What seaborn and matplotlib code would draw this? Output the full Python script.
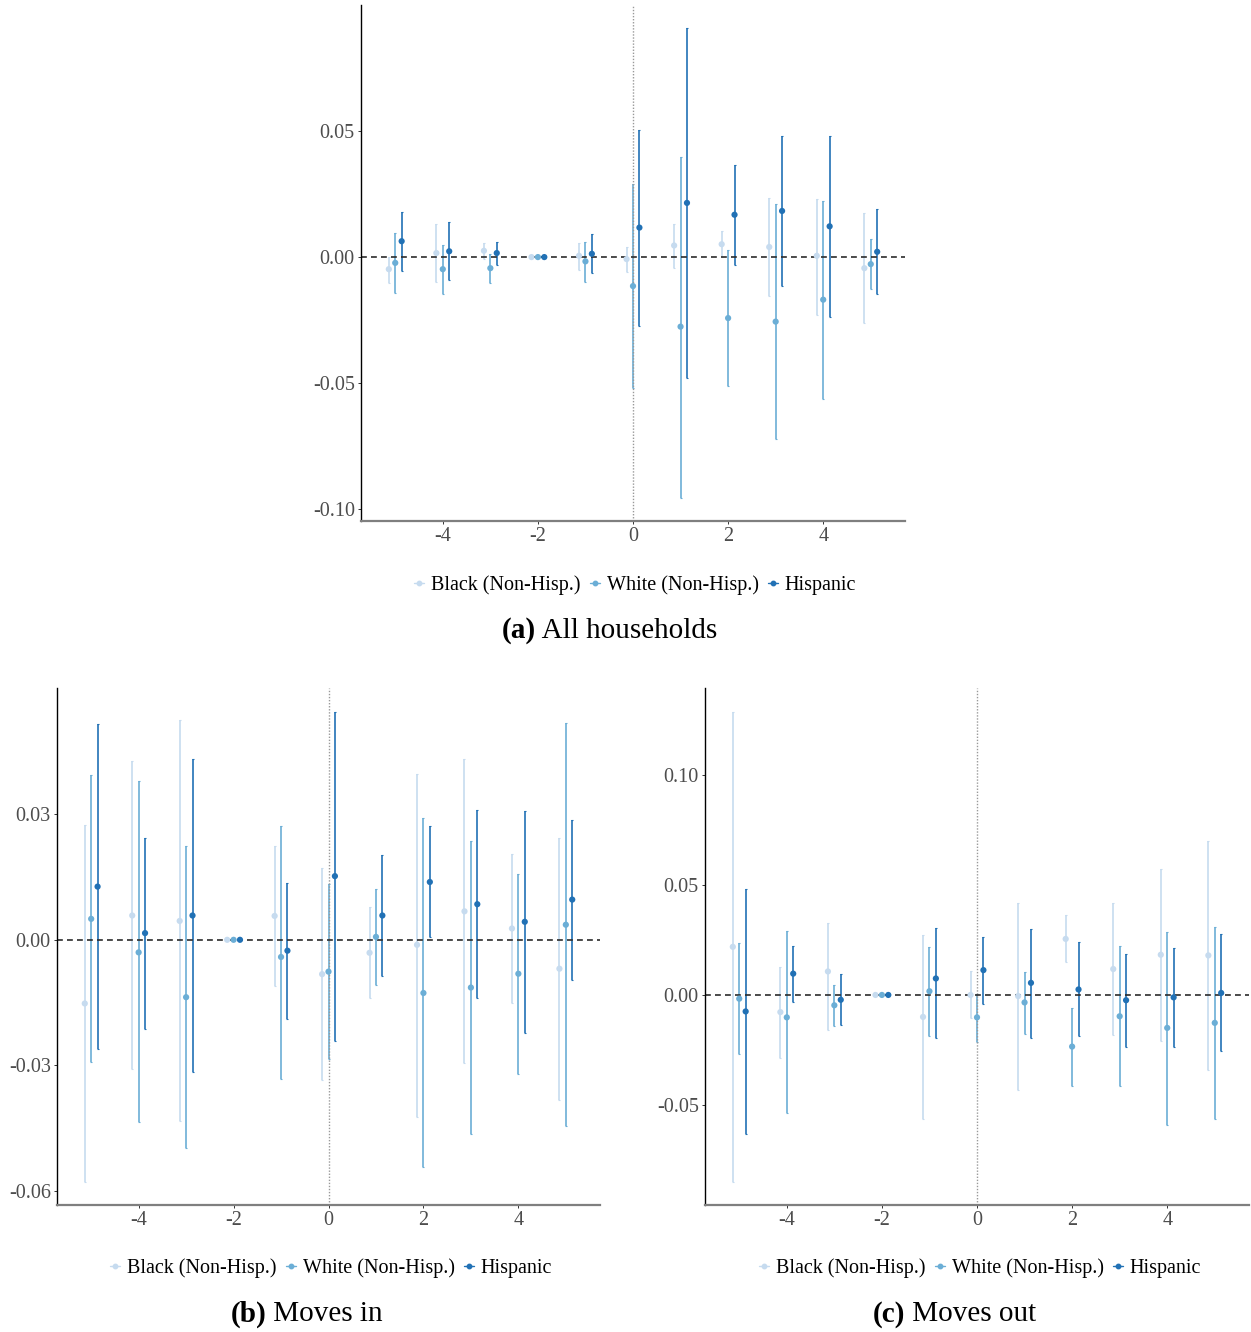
import numpy as np
import pandas as pd
import matplotlib
matplotlib.use("Agg")
import matplotlib.pyplot as plt
import seaborn as sns
from matplotlib.lines import Line2D

# ---------------- data ----------------
periods = [-5, -4, -3, -2, -1, 0, 1, 2, 3, 4, 5]
groups = ["Black (Non-Hisp.)", "White (Non-Hisp.)", "Hispanic"]
nan = np.nan

# (a) All households
a_black_est = [-0.0048, 0.0016, 0.0025, 0, 0.0005, -0.0008, 0.0046, 0.0051, 0.0040, 0.0005, -0.0044]
a_black_lo = [-0.0102, -0.0099, -0.0008, nan, -0.0051, -0.0059, -0.0042, 0.0000, -0.0156, -0.0229, -0.0263]
a_black_hi = [0.0000, 0.0133, 0.0056, nan, 0.0056, 0.0040, 0.0133, 0.0102, 0.0235, 0.0231, 0.0173]
a_white_est = [-0.0023, -0.0048, -0.0044, 0, -0.0017, -0.0115, -0.0276, -0.0242, -0.0256, -0.0169, -0.0028]
a_white_lo = [-0.0142, -0.0145, -0.0102, nan, -0.0099, -0.0521, -0.0954, -0.0511, -0.0722, -0.0564, -0.0127]
a_white_hi = [0.0097, 0.0046, 0.0013, nan, 0.0060, 0.0291, 0.0399, 0.0030, 0.0209, 0.0223, 0.0070]
a_hisp_est = [0.0063, 0.0023, 0.0016, 0, 0.0013, 0.0117, 0.0215, 0.0168, 0.0183, 0.0122, 0.0021]
a_hisp_lo = [-0.0054, -0.0091, -0.0031, nan, -0.0062, -0.0272, -0.0478, -0.0031, -0.0115, -0.0239, -0.0146]
a_hisp_hi = [0.0180, 0.0138, 0.0060, nan, 0.0090, 0.0506, 0.0907, 0.0365, 0.0482, 0.0482, 0.0189]

# (b) Moves in
b_black_est = [-0.0152, 0.0058, 0.0045, 0, 0.0057, -0.0082, -0.0031, -0.0012, 0.0068, 0.0027, -0.0069]
b_black_lo = [-0.0577, -0.0308, -0.0433, nan, -0.0111, -0.0335, -0.0140, -0.0422, -0.0293, -0.0150, -0.0382]
b_black_hi = [0.0274, 0.0427, 0.0524, nan, 0.0224, 0.0171, 0.0078, 0.0396, 0.0432, 0.0204, 0.0242]
b_white_est = [0.0050, -0.0030, -0.0137, 0, -0.0041, -0.0076, 0.0007, -0.0127, -0.0114, -0.0081, 0.0036]
b_white_lo = [-0.0292, -0.0436, -0.0497, nan, -0.0333, -0.0284, -0.0108, -0.0543, -0.0464, -0.0321, -0.0445]
b_white_hi = [0.0394, 0.0378, 0.0224, nan, 0.0271, 0.0133, 0.0121, 0.0290, 0.0236, 0.0158, 0.0518]
b_hisp_est = [0.0127, 0.0016, 0.0058, 0, -0.0026, 0.0152, 0.0058, 0.0138, 0.0085, 0.0043, 0.0096]
b_hisp_lo = [-0.0261, -0.0214, -0.0316, nan, -0.0189, -0.0241, -0.0086, 0.0006, -0.0139, -0.0223, -0.0095]
b_hisp_hi = [0.0515, 0.0244, 0.0432, nan, 0.0136, 0.0545, 0.0203, 0.0271, 0.0310, 0.0308, 0.0287]

# (c) Moves out
c_black_est = [0.0219, -0.0078, 0.0107, 0, -0.0100, 0.0000, -0.0005, 0.0255, 0.0118, 0.0183, 0.0180]
c_black_lo = [-0.0849, -0.0285, -0.0160, nan, -0.0564, -0.0107, -0.0431, 0.0149, -0.0183, -0.0210, -0.0342]
c_black_hi = [0.1290, 0.0128, 0.0328, nan, 0.0274, 0.0107, 0.0418, 0.0362, 0.0418, 0.0574, 0.0702]
c_white_est = [-0.0017, -0.0102, -0.0047, 0, 0.0017, -0.0102, -0.0034, -0.0235, -0.0097, -0.0150, -0.0127]
c_white_lo = [-0.0270, -0.0537, -0.0141, nan, -0.0188, -0.0212, -0.0176, -0.0415, -0.0415, -0.0591, -0.0563]
c_white_hi = [0.0235, 0.0290, 0.0047, nan, 0.0219, 0.0004, 0.0103, -0.0060, 0.0223, 0.0287, 0.0309]
c_hisp_est = [-0.0075, 0.0097, -0.0022, 0, 0.0075, 0.0113, 0.0055, 0.0025, -0.0024, -0.0011, 0.0009]
c_hisp_lo = [-0.0635, -0.0034, -0.0138, nan, -0.0196, -0.0041, -0.0194, -0.0188, -0.0237, -0.0238, -0.0255]
c_hisp_hi = [0.0483, 0.0223, 0.0094, nan, 0.0306, 0.0266, 0.0302, 0.0240, 0.0186, 0.0215, 0.0279]

x_ticks = [-4, -2, 0, 2, 4]
x_ticklabels = ["-4", "-2", "0", "2", "4"]
a_yticks = [0.05, 0.00, -0.05, -0.10]
a_yticklabels = ["0.05", "0.00", "-0.05", "-0.10"]
b_yticks = [0.03, 0.00, -0.03, -0.06]
b_yticklabels = ["0.03", "0.00", "-0.03", "-0.06"]
c_yticks = [0.10, 0.05, 0.00, -0.05]
c_yticklabels = ["0.10", "0.05", "0.00", "-0.05"]

captions = [("(a)", " All households"), ("(b)", " Moves in"), ("(c)", " Moves out")]

# ---------------- style ----------------
sns.set_theme(style="white")
plt.rcParams['font.family'] = ['Liberation Serif', 'DejaVu Serif']
plt.rcParams['axes.unicode_minus'] = False
plt.rcParams['text.color'] = 'black'

palette = {groups[0]: "#c6dbef", groups[1]: "#6baed6", groups[2]: "#2171b5"}
offsets = [-0.135, 0.0, 0.135]

W, H = 1251, 1332
fig = plt.figure(figsize=(W / 100, H / 100), dpi=100)


def ax_at(left, top, right, bottom):
    return fig.add_axes([left / W, 1 - bottom / H, (right - left) / W, (bottom - top) / H])


def draw(ax, series, yticks, yticklabels):
    rows = []
    for g, off, (est, lo, hi) in zip(groups, offsets, series):
        for t, e, l, h in zip(periods, est, lo, hi):
            rows.append(dict(t=t, x=t + off, group=g, est=e, lo=l, hi=h))
    df = pd.DataFrame(rows)
    for g in groups:
        sub = df[(df.group == g) & df.lo.notna()]
        ax.errorbar(sub.x, sub.est, yerr=[sub.est - sub.lo, sub.hi - sub.est], fmt='none',
                    ecolor=palette[g], elinewidth=1.2, capsize=1.0, capthick=0.8, zorder=2)
    sns.scatterplot(data=df, x='x', y='est', hue='group', palette=palette, hue_order=groups,
                    s=20, edgecolor='none', linewidth=0, legend=False, ax=ax, zorder=3)
    ax.axvline(0, color='#999999', ls=(0, (1, 1.2)), lw=1.0, zorder=2.2)
    ax.axhline(0, color='#2b2b2b', ls=(0, (3.5, 2.5)), lw=1.2, zorder=2.5)
    lo_all = np.nanmin(df.lo.values)
    hi_all = np.nanmax(df.hi.values)
    pad = (hi_all - lo_all) * 0.05
    ax.set_ylim(lo_all - pad, hi_all + pad)
    ax.set_xlim(-5.72, 5.72)
    ax.set_xticks(x_ticks)
    ax.set_xticklabels(x_ticklabels)
    ax.set_yticks(yticks)
    ax.set_yticklabels(yticklabels)
    ax.set_xlabel("")
    ax.set_ylabel("")
    for s in ['top', 'right']:
        ax.spines[s].set_visible(False)
    ax.spines['left'].set_color('black')
    ax.spines['left'].set_linewidth(1.0)
    ax.spines['bottom'].set_color('#7f7f7f')
    ax.spines['bottom'].set_linewidth(1.6)
    ax.tick_params(axis='both', length=2.5, width=0.7, color='#333333', labelsize=14.5,
                   labelcolor='#4d4d4d', pad=2, left=True, bottom=True)
    ax.grid(False)
    ax.set_facecolor('white')


ax_a = ax_at(361, 5, 905, 521)
ax_b = ax_at(57, 688, 600, 1205)
ax_c = ax_at(705, 688, 1249, 1205)

draw(ax_a, [(a_black_est, a_black_lo, a_black_hi), (a_white_est, a_white_lo, a_white_hi),
            (a_hisp_est, a_hisp_lo, a_hisp_hi)], a_yticks, a_yticklabels)
draw(ax_b, [(b_black_est, b_black_lo, b_black_hi), (b_white_est, b_white_lo, b_white_hi),
            (b_hisp_est, b_hisp_lo, b_hisp_hi)], b_yticks, b_yticklabels)
draw(ax_c, [(c_black_est, c_black_lo, c_black_hi), (c_white_est, c_white_lo, c_white_hi),
            (c_hisp_est, c_hisp_lo, c_hisp_hi)], c_yticks, c_yticklabels)

handles = [Line2D([0], [0], color=palette[g], marker='o', markersize=3.2, lw=1.0) for g in groups]
for cx, cy in [(635, 585), (331, 1268), (980, 1268)]:
    leg = fig.legend(handles, groups, loc='center', bbox_to_anchor=(cx / W, 1 - cy / H), ncol=3,
                     frameon=False, fontsize=14.5, handlelength=0.5, handletextpad=0.35,
                     columnspacing=0.45, borderaxespad=0, borderpad=0)
    for txt in leg.get_texts():
        txt.set_color('black')

for (bold, rest), (sx, sy) in zip(captions, [(536, 631), (266, 1314), (905, 1314)]):
    fig.text(sx / W, 1 - sy / H, bold, ha='right', va='center', fontsize=21, fontweight='bold',
             color='black')
    fig.text(sx / W, 1 - sy / H, rest, ha='left', va='center', fontsize=21, color='black')

fig.savefig("out.png", dpi=100, facecolor='white')
